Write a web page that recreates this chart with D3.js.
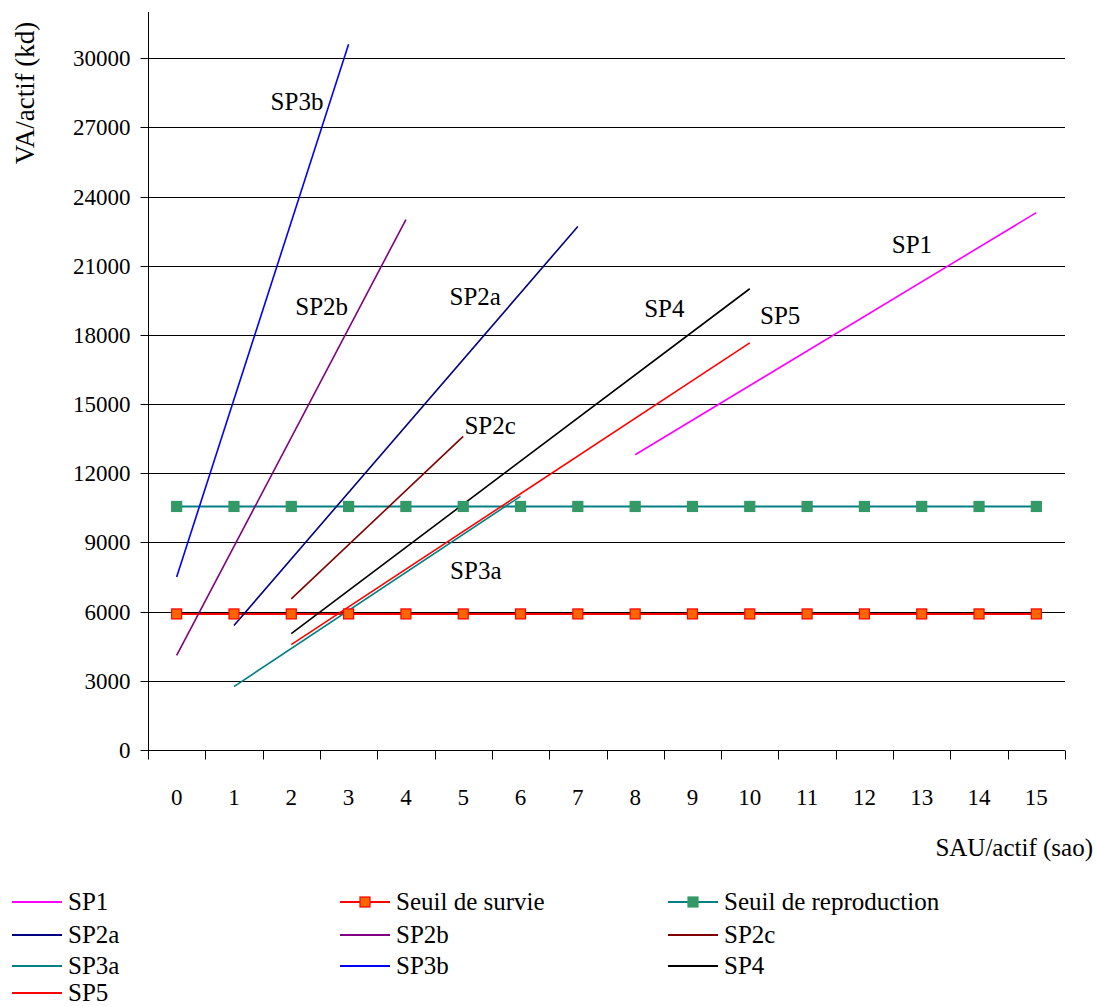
<!DOCTYPE html>
<html>
<head>
<meta charset="utf-8">
<script src="https://cdn.jsdelivr.net/npm/d3@7"></script>
<style>
  html, body { margin: 0; padding: 0; background: #fff; }
  svg { display: block; font-family: "Liberation Serif", "Times New Roman", serif; }
</style>
</head>
<body>
<svg id="chart" width="1096" height="1006"></svg>
<script>
// ---- data ----
const categories = ["0","1","2","3","4","5","6","7","8","9","10","11","12","13","14","15"];
const yTicks = [0, 3000, 6000, 9000, 12000, 15000, 18000, 21000, 24000, 27000, 30000];

const seuilSurvie = [5900, 5900, 5900, 5900, 5900, 5900, 5900, 5900, 5900, 5900, 5900, 5900, 5900, 5900, 5900, 5900];
const seuilReproduction = [10560, 10560, 10560, 10560, 10560, 10560, 10560, 10560, 10560, 10560, 10560, 10560, 10560, 10560, 10560, 10560];

// systems: [category, VA/actif]
const sp1  = [["8", 12800], ["15", 23300]];
const sp2a = [["1", 5400],  ["7", 22700]];
const sp2b = [["0", 4100],  ["4", 23000]];
const sp2c = [["2", 6550],  ["5", 13600]];
const sp3a = [["1", 2750],  ["6", 11000]];
const sp3b = [["0", 7500],  ["3", 30600]];
const sp4  = [["2", 5050],  ["10", 20000]];
const sp5  = [["2", 4570],  ["10", 17650]];

const seriesNames = ["SP1","Seuil de survie","Seuil de reproduction","SP2a","SP2b","SP2c","SP3a","SP3b","SP4","SP5"];

// label annotations in data units (category index, value)
const labelNames = ["SP3b","SP2b","SP2a","SP2c","SP4","SP5","SP1","SP3a"];
const labelCat   = [2.1, 2.53, 5.21, 5.47, 8.51, 10.53, 12.83, 5.22];
const labelVal   = [27750, 18860, 19295, 13700, 18775, 18470, 21550, 7415];

// ---- styles ----
const colors = {
  "SP1": "#ff00ff", "SP2a": "#000080", "SP2b": "#800080", "SP2c": "#800000",
  "SP3a": "#008080", "SP3b": "#0000ff", "SP4": "#000000", "SP5": "#ff0000",
  "Seuil de survie": "#ff0000", "Seuil de reproduction": "#008080"
};
const markerFill = { "Seuil de survie": "#ff6600", "Seuil de reproduction": "#339966" };
const markerStroke = { "Seuil de survie": "#ff0000", "Seuil de reproduction": "#339966" };

const svg = d3.select("#chart");
const mLeft = 148, mRight = 1065, mTop = 12, mBottom = 750;

const x = d3.scaleBand().domain(categories).range([mLeft, mRight]).padding(0);
const bw = x.bandwidth();
const xc = c => x(c) + bw / 2;
const xNum = v => mLeft + (v + 0.5) * bw;
const y = d3.scaleLinear().domain([0, 32000]).range([mBottom, mTop]);

// gridlines
svg.append("g").selectAll("line").data(yTicks.filter(t => t > 0)).join("line")
  .attr("x1", mLeft).attr("x2", mRight)
  .attr("y1", d => Math.round(y(d)) + 0.5).attr("y2", d => Math.round(y(d)) + 0.5)
  .attr("stroke", "#000").attr("stroke-width", 1);

// y axis
const yAxis = d3.axisLeft(y).tickValues(yTicks).tickSize(8).tickPadding(10).tickFormat(d3.format("d"));
const gy = svg.append("g").attr("transform", `translate(${mLeft + 0.5},0)`).call(yAxis);
gy.select(".domain").attr("d", `M0,${mTop}V${mBottom}`).attr("stroke", "#000");
gy.selectAll(".tick line").attr("stroke", "#000");
gy.selectAll(".tick text").attr("font-size", 23).attr("font-family", "Liberation Serif").attr("fill", "#000");
gy.selectAll(".tick").attr("transform", d => `translate(0,${Math.round(y(d)) + 0.5})`);

// x axis: ticks at band edges, labels at centers
const gx = svg.append("g").attr("transform", `translate(0,${mBottom + 0.5})`);
gx.append("line").attr("x1", mLeft).attr("x2", mRight).attr("stroke", "#000");
const edges = categories.map(c => x(c)).concat([mRight]);
gx.selectAll("line.tk").data(edges).join("line").attr("class", "tk")
  .attr("x1", d => Math.round(d) + 0.5).attr("x2", d => Math.round(d) + 0.5)
  .attr("y1", 0).attr("y2", 9).attr("stroke", "#000");
gx.selectAll("text").data(categories).join("text")
  .attr("x", d => xc(d)).attr("y", 54)
  .attr("text-anchor", "middle").attr("font-size", 23).text(d => d);

// axis titles
svg.append("text").attr("x", 1093).attr("y", 856).attr("text-anchor", "end")
  .attr("font-size", 25).text("SAU/actif (sao)");
svg.append("text").attr("transform", "translate(34,93) rotate(-90)")
  .attr("text-anchor", "middle").attr("font-size", 27).text("VA/actif (kd)");

// lines
const line = d3.line().x(d => xc(d[0])).y(d => y(d[1]));
const series = [
  ["SP1", sp1], ["SP2a", sp2a], ["SP2b", sp2b], ["SP2c", sp2c],
  ["SP3a", sp3a], ["SP3b", sp3b], ["SP4", sp4], ["SP5", sp5]
];
const thresholds = [
  ["Seuil de reproduction", categories.map((c, i) => [c, seuilReproduction[i]])],
  ["Seuil de survie", categories.map((c, i) => [c, seuilSurvie[i]])]
];
const plot = svg.append("g");
thresholds.forEach(([name, pts]) => {
  plot.append("path").attr("d", line(pts)).attr("fill", "none")
    .attr("stroke", colors[name]).attr("stroke-width", 2);
});
series.forEach(([name, pts]) => {
  plot.append("path").attr("d", line(pts)).attr("fill", "none")
    .attr("stroke", colors[name]).attr("stroke-width", 1.6);
});
thresholds.forEach(([name, pts]) => {
  plot.append("g").selectAll("rect").data(pts).join("rect")
    .attr("x", d => xc(d[0]) - 5).attr("y", d => y(d[1]) - 5)
    .attr("width", 10).attr("height", 10)
    .attr("fill", markerFill[name]).attr("stroke", markerStroke[name]).attr("stroke-width", 1.2);
});

// line labels
svg.append("g").selectAll("text").data(labelNames).join("text")
  .attr("x", (d, i) => xNum(labelCat[i])).attr("y", (d, i) => y(labelVal[i]))
  .attr("text-anchor", "middle").attr("font-size", 25).text(d => d);

// legend
const legCols = [12, 340, 668];
const legRows = [902, 935, 966, 993];
const leg = svg.append("g");
seriesNames.forEach((name, i) => {
  const cx = legCols[i % 3], cy = legRows[Math.floor(i / 3)];
  const g = leg.append("g").attr("transform", `translate(${cx},${cy})`);
  g.append("line").attr("x1", 0).attr("x2", 50).attr("y1", 0).attr("y2", 0)
    .attr("stroke", colors[name]).attr("stroke-width", 2);
  if (markerFill[name]) {
    g.append("rect").attr("x", 20).attr("y", -5).attr("width", 10).attr("height", 10)
      .attr("fill", markerFill[name]).attr("stroke", markerStroke[name]).attr("stroke-width", 1.2);
  }
  g.append("text").attr("x", 56).attr("y", 0).attr("dy", "0.33em")
    .attr("font-size", 25).text(name);
});
</script>
</body>
</html>
